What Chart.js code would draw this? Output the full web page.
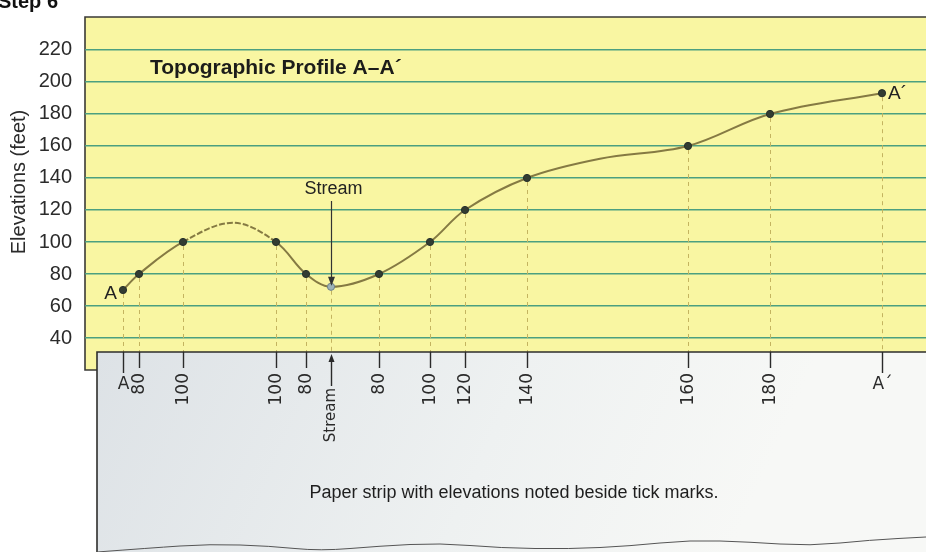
<!DOCTYPE html>
<html>
<head>
<meta charset="utf-8">
<script src="https://cdn.jsdelivr.net/npm/chart.js@4.4.0/dist/chart.umd.min.js"></script>
<style>
  html, body { margin: 0; padding: 0; background: #fff; overflow: hidden; }
  #wrap { width: 926px; height: 552px; position: relative; }
</style>
</head>
<body>
<div id="wrap"><canvas id="profileChart" width="926" height="552"></canvas></div>
<script>
// distance along the paper strip and elevation noted at each tick mark
var stripDistance  = [38, 54, 98, 191, 221, 246, 294, 345, 380, 442, 603, 685, 797];
var stripElevation = [70, 80, 100, 100, 80, 72, 80, 100, 120, 140, 160, 180, 193];
var stripLabels    = ['A', '80', '100', '100', '80', 'Stream', '80', '100', '120', '140', '160', '180', 'A\u00b4'];

// sketched shape of the profile between tick marks (hilltop, gentle slope)
var sketchDistance  = [148, 515];
var sketchElevation = [112, 152];

var elevationTicks = [40, 60, 80, 100, 120, 140, 160, 180, 200, 220];

var FONT = '"Liberation Sans", Arial, sans-serif';
var HAND = '"DejaVu Sans", sans-serif';
var STRIP_TOP = 352;
var STRIP_LEFT = 97;

// merge tick-mark points and sketch points into one ordered profile
var profile = [];
stripDistance.forEach(function (d, i) {
  profile.push({ x: d, y: stripElevation[i], marked: true, label: stripLabels[i] });
});
sketchDistance.forEach(function (d, i) {
  profile.push({ x: d, y: sketchElevation[i], marked: false });
});
profile.sort(function (a, b) { return a.x - b.x; });

var paperPlugin = {
  id: 'paperPlugin',
  beforeDraw: function (chart) {
    var ctx = chart.ctx, a = chart.chartArea;
    ctx.save();
    ctx.fillStyle = '#fff';
    ctx.fillRect(0, 0, chart.width, chart.height);
    // yellow graph paper
    ctx.fillStyle = '#f9f6a2';
    ctx.fillRect(a.left, a.top, a.right - a.left, a.bottom - a.top);
    ctx.strokeStyle = '#3a3a36';
    ctx.lineWidth = 1.6;
    ctx.beginPath();
    ctx.moveTo(a.right, a.top);
    ctx.lineTo(a.left, a.top);
    ctx.lineTo(a.left, a.bottom);
    ctx.lineTo(STRIP_LEFT, a.bottom);
    ctx.stroke();

    // heading
    ctx.fillStyle = '#111';
    ctx.font = 'bold 20px ' + FONT;
    ctx.textBaseline = 'alphabetic';
    ctx.fillText('Step 6', -2, 8);
    ctx.restore();
  },
  beforeDatasetsDraw: function (chart) {
    var ctx = chart.ctx, xs = chart.scales.x, ys = chart.scales.y;
    ctx.save();
    ctx.strokeStyle = '#c4b460';
    ctx.lineWidth = 1;
    ctx.setLineDash([4, 4]);
    stripDistance.forEach(function (d, i) {
      var px = Math.round(xs.getPixelForValue(d)) + 0.5;
      ctx.beginPath();
      ctx.moveTo(px, ys.getPixelForValue(stripElevation[i]) + 4);
      ctx.lineTo(px, STRIP_TOP);
      ctx.stroke();
    });
    ctx.restore();
  },
  afterDraw: function (chart) {
    var ctx = chart.ctx, xs = chart.scales.x, ys = chart.scales.y;
    ctx.save();

    // axis title
    ctx.save();
    ctx.translate(19, 182);
    ctx.rotate(-Math.PI / 2);
    ctx.fillStyle = '#2b2b2b';
    ctx.font = '20px ' + FONT;
    ctx.textAlign = 'center';
    ctx.textBaseline = 'middle';
    ctx.fillText('Elevations (feet)', 0, 0);
    ctx.restore();

    // chart heading
    ctx.fillStyle = '#1c1c1a';
    ctx.font = 'bold 21px ' + FONT;
    ctx.textAlign = 'left';
    ctx.textBaseline = 'alphabetic';
    ctx.fillText('Topographic Profile A\u2013A\u00b4', 150, 74);

    // end labels on the profile
    ctx.font = '19px ' + FONT;
    ctx.fillStyle = '#222';
    ctx.textBaseline = 'middle';
    var first = 0, last = stripDistance.length - 1;
    ctx.textAlign = 'right';
    ctx.fillText('A', xs.getPixelForValue(stripDistance[first]) - 6, ys.getPixelForValue(stripElevation[first]) + 4);
    ctx.textAlign = 'left';
    ctx.fillText('A\u00b4', xs.getPixelForValue(stripDistance[last]) + 6, ys.getPixelForValue(stripElevation[last]) + 1);

    // stream callout
    var si = stripLabels.indexOf('Stream');
    var sx = Math.round(xs.getPixelForValue(stripDistance[si])) + 0.5;
    var sy = ys.getPixelForValue(stripElevation[si]);
    ctx.font = '18px ' + FONT;
    ctx.textAlign = 'center';
    ctx.textBaseline = 'alphabetic';
    ctx.fillText('Stream', sx + 2, 194);
    ctx.strokeStyle = '#333';
    ctx.lineWidth = 1.2;
    ctx.beginPath();
    ctx.moveTo(sx, 201);
    ctx.lineTo(sx, sy - 3);
    ctx.stroke();
    ctx.fillStyle = '#333';
    ctx.beginPath();
    ctx.moveTo(sx, sy - 1);
    ctx.lineTo(sx - 3.5, sy - 10);
    ctx.lineTo(sx + 3.5, sy - 10);
    ctx.closePath();
    ctx.fill();

    // paper strip
    var g = ctx.createLinearGradient(STRIP_LEFT, STRIP_TOP, 700, 620);
    g.addColorStop(0, '#dde2e6');
    g.addColorStop(0.6, '#eef1f1');
    g.addColorStop(1, '#f7f8f6');
    ctx.fillStyle = g;
    ctx.fillRect(STRIP_LEFT, STRIP_TOP, chart.width - STRIP_LEFT, chart.height - STRIP_TOP);
    ctx.strokeStyle = '#2e2e2c';
    ctx.lineWidth = 1.6;
    ctx.beginPath();
    ctx.moveTo(STRIP_LEFT, chart.height);
    ctx.lineTo(STRIP_LEFT, STRIP_TOP);
    ctx.lineTo(chart.width, STRIP_TOP);
    ctx.stroke();

    // torn lower edge
    var wave = [[STRIP_LEFT, 552], [150, 548], [210, 544], [270, 546], [320, 551], [380, 546], [440, 543], [500, 548], [570, 549], [630, 546], [690, 540], [750, 542], [810, 546], [870, 540], [926, 537]];
    ctx.strokeStyle = '#555';
    ctx.lineWidth = 1;
    ctx.beginPath();
    ctx.moveTo(wave[0][0], wave[0][1]);
    for (var w = 1; w < wave.length - 1; w++) {
      var mx = (wave[w][0] + wave[w + 1][0]) / 2, my = (wave[w][1] + wave[w + 1][1]) / 2;
      ctx.quadraticCurveTo(wave[w][0], wave[w][1], mx, my);
    }
    ctx.lineTo(wave[wave.length - 1][0], wave[wave.length - 1][1]);
    ctx.stroke();

    // tick marks and handwritten elevations
    stripDistance.forEach(function (d, i) {
      var px = Math.round(xs.getPixelForValue(d)) + 0.5;
      var lab = stripLabels[i];
      ctx.strokeStyle = '#2a2a2a';
      ctx.fillStyle = '#2a2a2a';
      ctx.lineWidth = 1.4;
      if (lab === 'Stream') {
        ctx.beginPath();
        ctx.moveTo(px, 386);
        ctx.lineTo(px, STRIP_TOP + 6);
        ctx.stroke();
        ctx.beginPath();
        ctx.moveTo(px, STRIP_TOP + 2);
        ctx.lineTo(px - 3, STRIP_TOP + 10);
        ctx.lineTo(px + 3, STRIP_TOP + 10);
        ctx.closePath();
        ctx.fill();
      } else {
        ctx.beginPath();
        ctx.moveTo(px, STRIP_TOP);
        ctx.lineTo(px, i === 0 || i === stripDistance.length - 1 ? 373 : 368);
        ctx.stroke();
      }
      if (i === 0 || i === stripDistance.length - 1) {
        ctx.font = '17px ' + HAND;
        ctx.textAlign = 'center';
        ctx.textBaseline = 'middle';
        ctx.fillText(lab, px, 385);
      } else {
        ctx.save();
        ctx.translate(px, lab === 'Stream' ? 388 : 373);
        ctx.rotate(-Math.PI / 2);
        ctx.font = (lab === 'Stream' ? '15px ' : '17px ') + HAND;
        ctx.textAlign = 'right';
        ctx.textBaseline = 'middle';
        ctx.fillText(lab, 0, 0);
        ctx.restore();
      }
    });

    // caption
    ctx.fillStyle = '#1e1e1e';
    ctx.font = '18px ' + FONT;
    ctx.textAlign = 'center';
    ctx.textBaseline = 'middle';
    ctx.fillText('Paper strip with elevations noted beside tick marks.', 514, 493);
    ctx.restore();
  }
};

var canvas = document.getElementById('profileChart');
var profileCtx = canvas.getContext('2d');

new Chart(profileCtx, {
  type: 'line',
  data: {
    datasets: [{
      label: 'Profile A-A\u00b4',
      data: profile,
      borderColor: '#857a43',
      borderWidth: 2,
      tension: 0.35,
      fill: false,
      clip: false,
      pointRadius: profile.map(function (p) { return p.marked ? 3.6 : 0; }),
      pointBackgroundColor: profile.map(function (p) { return p.label === 'Stream' ? '#9db2b8' : '#323c32'; }),
      pointBorderColor: profile.map(function (p) { return p.label === 'Stream' ? '#6f8288' : '#27302a'; }),
      pointBorderWidth: 1,
      segment: {
        // the hilltop between the two 100 ft ticks is only sketched
        borderDash: function (c) {
          return (c.p0.parsed.x >= 98 && c.p1.parsed.x <= 191) ? [6, 2] : undefined;
        }
      }
    }]
  },
  options: {
    responsive: false,
    animation: false,
    devicePixelRatio: 1,
    layout: { autoPadding: false, padding: { top: 17, bottom: 182, left: 0, right: 0 } },
    plugins: { legend: { display: false }, tooltip: { enabled: false } },
    scales: {
      x: {
        type: 'linear',
        display: false,
        min: 0,
        max: 841
      },
      y: {
        min: 20,
        max: 240.6,
        afterFit: function (scale) {
          scale.width = 85;
          scale.paddingTop = 0;
          scale.paddingBottom = 0;
        },
        afterBuildTicks: function (scale) {
          scale.ticks = elevationTicks.map(function (v) { return { value: v }; });
        },
        border: { display: false },
        grid: { color: '#4c9f80', lineWidth: 1.6, drawTicks: false },
        ticks: {
          padding: 13,
          color: '#2b2b2b',
          font: { family: FONT, size: 20 }
        }
      }
    }
  },
  plugins: [paperPlugin]
});
</script>
</body>
</html>
